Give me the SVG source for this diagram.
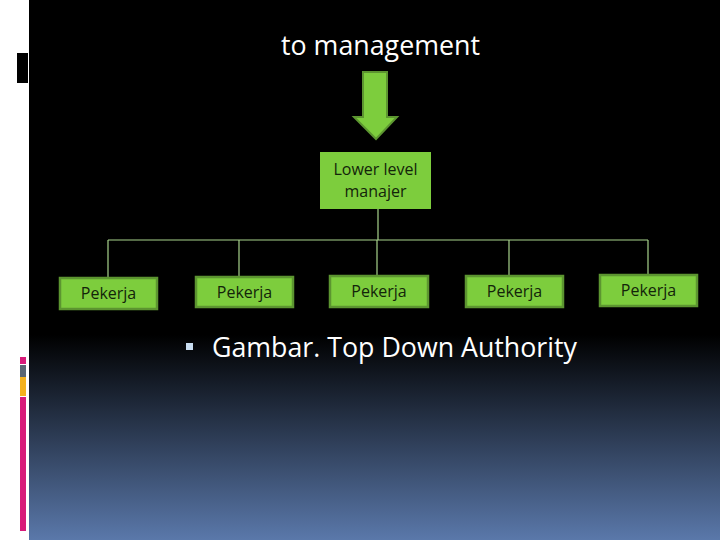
<svg xmlns="http://www.w3.org/2000/svg" width="720" height="540" viewBox="0 0 720 540">
<defs>
<linearGradient id="bg" x1="0" y1="0" x2="0" y2="540" gradientUnits="userSpaceOnUse">
<stop offset="0" stop-color="#000"/>
<stop offset="0.62" stop-color="#000"/>
<stop offset="1" stop-color="#5a78aa"/>
</linearGradient>
<style>
.box{fill:#7dcd3d;stroke:#5c9530;stroke-width:2.5}
.lbl{font-family:"Open Sans",Lato,sans-serif;font-size:16px;fill:#13240a;text-anchor:middle}
.conn{stroke:#a8d48c;stroke-width:1.2;fill:none}
</style>
</defs>
<rect width="720" height="540" fill="#fff"/>
<rect x="29" y="0" width="691" height="540" fill="url(#bg)"/>
<rect x="17" y="53" width="11" height="30" fill="#000"/>
<rect x="20" y="357" width="6" height="7" fill="#d81b7a"/>
<rect x="20" y="365" width="6" height="12" fill="#5a6673"/>
<rect x="20" y="377" width="6" height="19" fill="#f4b21e"/>
<rect x="20" y="397" width="6" height="134" fill="#d81b7a"/>
<text x="380.5" y="55" font-family="'Open Sans',Lato,sans-serif" font-size="27" fill="#fff" text-anchor="middle" textLength="199" lengthAdjust="spacingAndGlyphs">to management</text>
<g id="arrow">
<polygon points="363,72 387,72 387,117 397,117 376,139 354,117 363,117" fill="#7dcd3d" stroke="#5c9530" stroke-width="2"/>
</g>
<g id="connectors">
<line class="conn" x1="378" y1="209" x2="378" y2="240"/>
<line class="conn" x1="108" y1="240" x2="648" y2="240"/>
<line class="conn" x1="108" y1="240" x2="108" y2="277"/>
<line class="conn" x1="239" y1="240" x2="239" y2="276"/>
<line class="conn" x1="377" y1="240" x2="377" y2="275"/>
<line class="conn" x1="509" y1="240" x2="509" y2="275"/>
<line class="conn" x1="648" y1="240" x2="648" y2="274"/>
</g>
<g id="manager">
<rect x="320" y="152" width="111" height="57" fill="#7dcd3d"/>
<text class="lbl" x="375.5" y="175" font-size="15">Lower level</text>
<text class="lbl" x="375.5" y="197" font-size="15">manajer</text>
</g>
<g id="p1"><rect class="box" x="60" y="278" width="97" height="31"/><text class="lbl" x="108.5" y="299">Pekerja</text></g>
<g id="p2"><rect class="box" x="196" y="277" width="97" height="30"/><text class="lbl" x="244.5" y="298">Pekerja</text></g>
<g id="p3"><rect class="box" x="330" y="276" width="98" height="31"/><text class="lbl" x="379" y="297">Pekerja</text></g>
<g id="p4"><rect class="box" x="466" y="276" width="97" height="31"/><text class="lbl" x="514.5" y="297">Pekerja</text></g>
<g id="p5"><rect class="box" x="600" y="275" width="97" height="31"/><text class="lbl" x="648.5" y="296">Pekerja</text></g>
<rect x="186" y="343" width="7" height="7" fill="#c8dcf0"/>
<text x="212" y="357" font-family="'Open Sans',Lato,sans-serif" font-size="27" fill="#fff" textLength="365" lengthAdjust="spacingAndGlyphs">Gambar. Top Down Authority</text>
</svg>
